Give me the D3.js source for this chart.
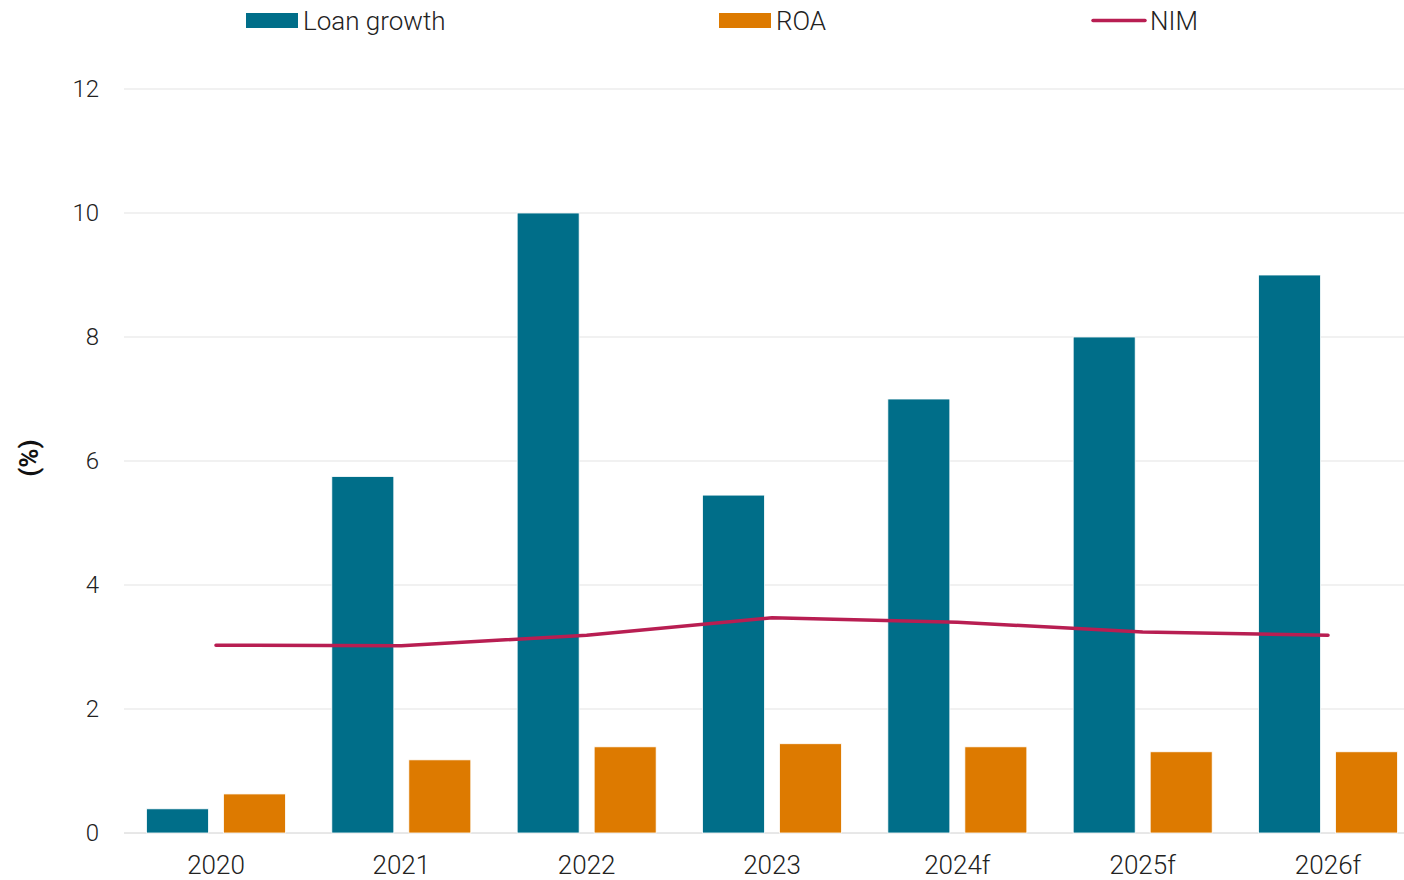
<!DOCTYPE html>
<html><head><meta charset="utf-8">
<script src="https://cdn.jsdelivr.net/npm/d3@7"></script>
<style>
html,body{margin:0;padding:0;background:#fff;}
svg{display:block;font-family:Roboto, "Noto Sans", sans-serif;}
</style></head>
<body><svg id="c" width="1404" height="880"></svg>
<script>
const categories = ["2020","2021","2022","2023","2024f","2025f","2026f"];
const loanGrowth = [0.39, 5.75, 10.0, 5.45, 7.0, 8.0, 9.0];
const roa = [0.63, 1.18, 1.39, 1.44, 1.39, 1.31, 1.31];
const nim = [3.03, 3.02, 3.19, 3.47, 3.40, 3.24, 3.19];
const yTicks = [0, 2, 4, 6, 8, 10, 12];
const seriesNames = ["Loan growth", "ROA", "NIM"];
const colors = {loan: "#006e89", roa: "#dd7a00", nim: "#b81e52"};

const svg = d3.select("#c");
const x = d3.scaleBand().domain(categories).range([123.3, 1420.7]).paddingInner(0).paddingOuter(0);
const y = d3.scaleLinear().domain([0, 12]).range([833, 89]);

// grid
svg.append("g").selectAll("line").data(yTicks).join("line")
  .attr("x1", 124).attr("x2", 1404)
  .attr("y1", d => y(d)).attr("y2", d => y(d))
  .attr("stroke", d => d === 0 ? "#d0d0d0" : "#e3e3e3").attr("stroke-width", 1);

// y axis labels
const yAxis = d3.axisLeft(y).tickValues(yTicks).tickSize(0).tickPadding(0).tickFormat(d3.format("d"));
const ya = svg.append("g").attr("transform", "translate(99,0)").call(yAxis);
ya.select(".domain").remove();
ya.selectAll("text").attr("font-size", 24).attr("font-weight", 300).attr("fill", "#222")
  .attr("font-family", "Roboto, sans-serif");

// x axis labels
const xAxis = d3.axisBottom(x).tickSize(0).tickPadding(0);
const xa = svg.append("g").attr("transform", "translate(0,856)").call(xAxis);
xa.select(".domain").remove();
xa.selectAll("text").attr("font-size", 26).attr("font-weight", 300).attr("fill", "#222")
  .attr("font-family", "Roboto, sans-serif");

// bars
const bw = 62;
svg.append("g").selectAll("rect").data(categories).join("rect")
  .attr("x", d => x(d) + x.bandwidth()/2 - 69.5)
  .attr("width", bw)
  .attr("y", (d,i) => y(loanGrowth[i]))
  .attr("height", (d,i) => y(0) - y(loanGrowth[i]))
  .attr("fill", colors.loan).attr("stroke", "#fff").attr("stroke-width", 0.8);
svg.append("g").selectAll("rect").data(categories).join("rect")
  .attr("x", d => x(d) + x.bandwidth()/2 + 7.5)
  .attr("width", bw)
  .attr("y", (d,i) => y(roa[i]))
  .attr("height", (d,i) => y(0) - y(roa[i]))
  .attr("fill", colors.roa).attr("stroke", "#fff").attr("stroke-width", 0.8);

// NIM line
const line = d3.line().x((d,i) => x(categories[i]) + x.bandwidth()/2).y(d => y(d));
svg.append("path").datum(nim).attr("d", line)
  .attr("fill", "none").attr("stroke", colors.nim).attr("stroke-width", 3.5)
  .attr("stroke-linecap", "round").attr("stroke-linejoin", "round");

// y title
svg.append("text").attr("transform", "translate(38,458) rotate(-90)")
  .attr("text-anchor", "middle").attr("font-size", 26).attr("font-weight", 700)
  .attr("fill", "#111").attr("font-family", "Roboto, sans-serif").text("(%)");

// legend
const leg = svg.append("g").attr("font-family", "Roboto, sans-serif").attr("font-size", 26).attr("font-weight", 300).attr("fill", "#222");
const legX = [246, 719, 1093];
leg.append("rect").attr("x", legX[0]).attr("y", 13).attr("width", 52).attr("height", 15).attr("fill", colors.loan);
leg.append("rect").attr("x", legX[1]).attr("y", 13).attr("width", 52).attr("height", 15).attr("fill", colors.roa);
leg.append("line").attr("x1", legX[2]).attr("x2", legX[2] + 52).attr("y1", 20.5).attr("y2", 20.5)
  .attr("stroke", colors.nim).attr("stroke-width", 3.5).attr("stroke-linecap", "round");
seriesNames.forEach((n, i) => {
  leg.append("text").attr("x", legX[i] + 57).attr("y", 30).text(n);
});
</script></body></html>
